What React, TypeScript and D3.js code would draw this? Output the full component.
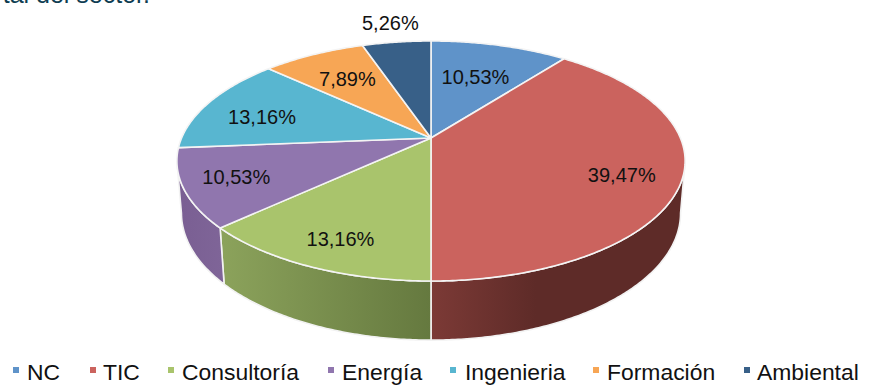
import * as d3 from "d3";

const categories = ["NC", "TIC", "Consultoría", "Energía", "Ingenieria", "Formación", "Ambiental"];
const shares = [10.53, 39.47, 13.16, 10.53, 13.16, 7.89, 5.26];
const tickLabels = ["10,53%", "39,47%", "13,16%", "10,53%", "13,16%", "7,89%", "5,26%"];
const topColors = ["#5f93c9", "#cb635e", "#a9c46c", "#9076ae", "#58b6d0", "#f7a655", "#386088"];
const wallNear = ["#4a74a0", "#7c3a36", "#65793f", "#7f6598", "#458fa5", "#c2813f", "#2a4a69"];
const wallFar = ["#4a74a0", "#5e2b28", "#8ba25b", "#7a5f93", "#458fa5", "#c2813f", "#2a4a69"];
const labelRadius = [0.61, 0.77, 0.78, 0.8, 0.75, 0.68, 1.22];
const labelNudge = [-1, 6, 5, -1, 6, 0, -2];
const legendMarkerX = [13, 90, 168, 328, 450, 593, 744];
const legendTextX = [27, 103, 182, 342, 465, 607, 757];

const WIDTH = 869;
const HEIGHT = 385;
const CX = 431;
const FONT = "'Liberation Sans', Arial, sans-serif";

// A disc seen in perspective: the near edge is drawn larger than the far edge.
type Plane = { apexY: number; rx: number; ry: number; k: number };
const topPlane: Plane = { apexY: 138, rx: 249.4, ry: 115.6, k: 0.1917 };
const basePlane: Plane = { apexY: 189, rx: 245, ry: 122.4, k: 0.19 };

function project(p: Plane, angle: number, r = 1): [number, number] {
  const u = r * Math.sin(angle);
  const v = -r * Math.cos(angle);
  const w = 1 - p.k * v;
  return [CX + (p.rx * u) / w, p.apexY + (p.ry * v) / w];
}

function arcPoints(p: Plane, a0: number, a1: number): [number, number][] {
  const steps = Math.max(2, Math.ceil(Math.abs(a1 - a0) / 0.01));
  return d3.range(steps + 1).map((i) => project(p, a0 + ((a1 - a0) * i) / steps));
}

const line = d3.line();

// The wall is only visible between the two silhouette tangents of the rim.
const wallFrom = Math.PI - Math.acos(topPlane.k);
const wallTo = Math.PI + Math.acos(topPlane.k);

export default function App() {
  const arcs = d3.pie<number>().sort(null).value((d) => d)(shares);

  const walls = arcs
    .map((a, i) => ({
      i,
      from: Math.max(a.startAngle, wallFrom),
      to: Math.min(a.endAngle, wallTo),
    }))
    .filter((w) => w.to > w.from);

  return (
    <svg
      width={WIDTH}
      height={HEIGHT}
      viewBox={`0 0 ${WIDTH} ${HEIGHT}`}
      style={{ position: "absolute", left: 0, top: 0, background: "#fff" }}
    >
      <defs>
        {walls.map((w) => {
          const [xa] = project(basePlane, w.from);
          const [xb] = project(basePlane, w.to);
          const near = Math.abs(xa - CX) < Math.abs(xb - CX) ? xa : xb;
          const far = near === xa ? xb : xa;
          return (
            <linearGradient
              key={w.i}
              id={`wall-${w.i}`}
              gradientUnits="userSpaceOnUse"
              x1={near}
              x2={far}
              y1={0}
              y2={0}
            >
              <stop offset={0} stopColor={wallNear[w.i]} />
              <stop offset={w.i === 1 ? 0.42 : 1} stopColor={wallFar[w.i]} />
              <stop offset={1} stopColor={wallFar[w.i]} />
            </linearGradient>
          );
        })}
      </defs>

      <text x={150} y={3} textAnchor="end" fontFamily={FONT} fontSize={25} fill="#0e3d52">
        tal del sector.
      </text>

      {walls.map((w) => {
        const pts = [
          ...arcPoints(topPlane, w.from, w.to),
          ...arcPoints(basePlane, w.to, w.from),
        ];
        return (
          <path
            key={w.i}
            d={line(pts) + "Z"}
            fill={`url(#wall-${w.i})`}
            stroke="#f2f2f2"
            strokeWidth={1.6}
            strokeLinejoin="round"
          />
        );
      })}

      {arcs.map((a, i) => {
        const pts = [
          [CX, topPlane.apexY] as [number, number],
          ...arcPoints(topPlane, a.startAngle, a.endAngle),
        ];
        return (
          <path
            key={categories[i]}
            d={line(pts) + "Z"}
            fill={topColors[i]}
            stroke="#f4f4f4"
            strokeWidth={1.6}
            strokeLinejoin="round"
          />
        );
      })}

      {arcs.map((a, i) => {
        const [x, y] = project(topPlane, (a.startAngle + a.endAngle) / 2, labelRadius[i]);
        return (
          <text
            key={categories[i]}
            x={x}
            y={y + labelNudge[i]}
            dy="0.36em"
            textAnchor="middle"
            fontFamily={FONT}
            fontSize={20}
            fill="#111"
          >
            {tickLabels[i]}
          </text>
        );
      })}

      {categories.map((c, i) => (
        <g key={c}>
          <rect x={legendMarkerX[i]} y={367} width={6} height={6} fill={topColors[i]} />
          <text x={legendTextX[i]} y={380} fontFamily={FONT} fontSize={22.9} fill="#111">
            {c}
          </text>
        </g>
      ))}
    </svg>
  );
}
